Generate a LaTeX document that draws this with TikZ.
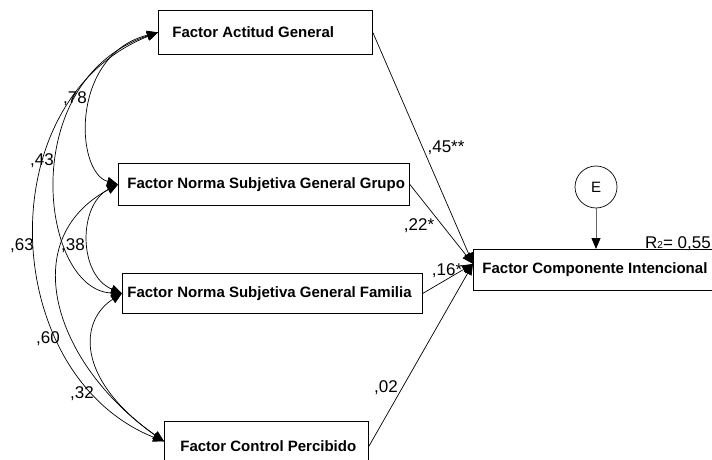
\documentclass[tikz,border=0pt]{standalone}
\usepackage{fontspec}
\setmainfont{Liberation Sans}
\usetikzlibrary{arrows.meta}
\newcommand{\boxtext}[3]{\makebox[#1][l]{\hspace*{#2}#3}}
\begin{document}
\begin{tikzpicture}[x=1pt,y=-1pt,
  box/.style={draw, line width=0.8pt, anchor=north west, inner xsep=0pt, inner ysep=0pt,
    font=\fontsize{15}{15}\selectfont\bfseries},
  lbl/.style={anchor=base, inner sep=0pt, font=\fontsize{17}{17}\selectfont},
  corr/.style={line width=0.7pt, {Triangle[length=11pt,width=9pt]}-{Triangle[length=11pt,width=9pt]}},
  reg/.style={line width=0.7pt, -{Triangle[length=11pt,width=9pt]}},
]
\clip (0,0) rectangle (712,460);
\fill[white] (0,0) rectangle (712,460);

% boxes
\node[box, minimum height=44pt] (act) at (158,10) {\boxtext{214pt}{14pt}{Factor Actitud General}};
\node[box, minimum height=42pt] (grp) at (118,163) {\boxtext{291pt}{9pt}{Factor Norma Subjetiva General Grupo}};
\node[box, minimum height=40pt] (fam) at (122,273) {\boxtext{300pt}{5pt}{Factor Norma Subjetiva General Familia}};
\node[box, minimum height=50pt] (ctrl) at (164,421) {\boxtext{204pt}{16pt}{Factor Control Percibido}};
\node[box, minimum height=41pt] (comp) at (473,249) {\boxtext{250pt}{9pt}{Factor Componente Intencional}};

% error term
\node[draw, circle, line width=0.7pt, minimum size=42pt, inner sep=0pt,
  font=\fontsize{15}{15}\selectfont] (e) at (596,187) {E};
\draw[line width=0.8pt, draw=gray!80!black, -{Triangle[length=11pt,width=9pt,color=black]}]
  (e.south) -- (e.south |- comp.north);

% correlations
\coordinate (ctrlin) at ([yshift=5pt]ctrl.west);
\draw[corr] (act.west) .. controls (70,55) and (75,172) .. (grp.west);
\draw[corr] (act.west) .. controls (15,80) and (40,290) .. (fam.west);
\draw[corr] (act.west) .. controls (-12,100) and (-2,375) .. (ctrlin);
\draw[corr] (grp.west) .. controls (78,205) and (78,275) .. (fam.west);
\draw[corr] (grp.west) .. controls (15,240) and (54,364) .. (ctrlin);
\draw[corr] (fam.west) .. controls (80,320) and (74,378) .. (ctrlin);

% regressions
\coordinate (tgt) at ([yshift=6pt]comp.west);
\draw[reg] (act.east) -- (tgt);
\draw[reg] (grp.east) -- (tgt);
\draw[reg] (fam.east) -- (tgt);
\draw[reg] (ctrl.east) -- (tgt);

% labels
\node[lbl] (l78) at (75,103) {,78};
\node[lbl] (l43) at (42,165) {,43};
\node[lbl] (l63) at (22,250) {,63};
\node[lbl] (l38) at (73,250) {,38};
\node[lbl] (l60) at (48,343) {,60};
\node[lbl] (l32) at (82,398) {,32};
\node[lbl] (l45) at (446,152) {,45**};
\node[lbl] (l22) at (419,230) {,22*};
\node[lbl] (l16) at (447,275) {,16*};
\node[lbl] (l02) at (386,392) {,02};
\node[lbl, anchor=base west] (r2) at (645,248) {R{\fontsize{10}{10}\selectfont 2}= 0,55};
\end{tikzpicture}
\end{document}
